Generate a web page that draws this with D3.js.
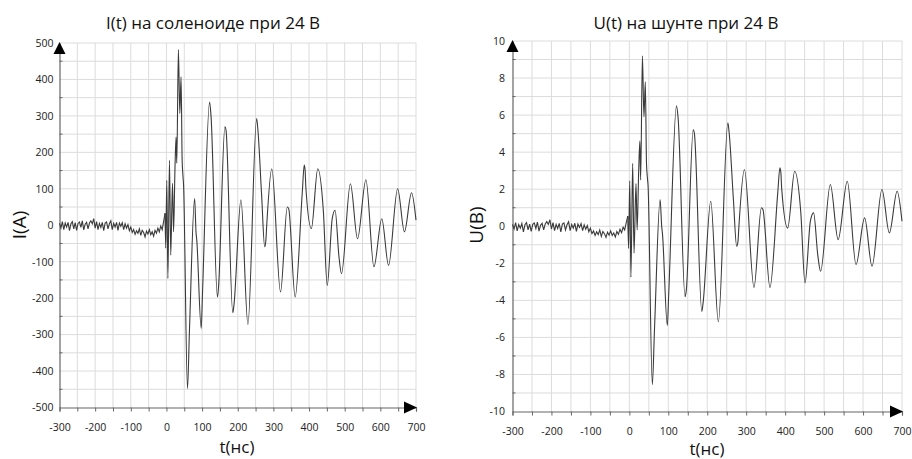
<!DOCTYPE html>
<html>
<head>
<meta charset="utf-8">
<script src="https://cdn.jsdelivr.net/npm/d3@7/dist/d3.min.js"></script>
<style>
body { margin: 0; background: #fff; }
svg { display: block; font-family: "Open Sans", sans-serif; }
</style>
</head>
<body>
<div id="chart"></div>
<script>
// time points, ns (shared by both oscillograms)
var timeNs = [
    -300, -296, -292, -288, -284, -280, -276, -272, -268, -264,
    -260, -256, -252, -248, -244, -240, -236, -232, -228, -224,
    -220, -216, -212, -208, -204, -200, -196, -192, -188, -184,
    -180, -176, -172, -168, -164, -160, -156, -152, -148, -144,
    -140, -136, -132, -128, -124, -120, -116, -112, -108, -104,
    -100, -96, -92, -88, -84, -80, -76, -72, -68, -64,
    -60, -56, -52, -48, -44, -40, -36, -32, -28, -24,
    -20, -16, -12, -8,
    -4, -2, 1, 4, 8.5, 12, 17, 20, 24, 27,
    29, 33.5, 37.5, 41, 44, 46, 48, 59, 64.5, 79,
    83, 85, 97.5, 101, 121, 125, 143, 146, 164, 167,
    186, 189, 209, 228.5, 253, 256, 267, 275.5, 279, 281,
    295.5, 320, 339, 343, 361, 381, 386.5, 389, 391, 406.5,
    424.5, 440, 451, 465, 473, 484, 491, 516, 536, 559.5,
    582, 604, 623, 648.5, 667.5, 687.5, 700
];

// current through the solenoid, A
var currentA = [
    5, -8, 10, -12, 6, -5, 8, -15, 4, 10,
    -10, 7, -14, 5, 9, -6, 12, -13, 3, 8,
    -10, 6, 12, 4, 18, -8, 10, -12, 5, -6,
    8, -15, 6, 9, -10, 4, 12, -12, 5, -5,
    8, -14, 6, -3, 7, -12, 4, -8, 2, -15,
    -5, -20, -12, -25, -15, -22, -10, -28, -14, -20,
    -32, -16, -24, -12, -26, -18, -30, -14, -22, -8,
    -18, -2, -12, 10,
    33, -63, 123, -146, 178, -82, 115, -18, 160, 242,
    170, 482, 307, 407, 180, 140, 110, -448, -290, 73,
    -20, -40, -283, -190, 338, 300, -197, -170, 270, 262,
    -240, -222, 70, -272, 293, 268, 82, -59, -40, -5,
    155, -183, 50, 45, -197, 90, 165, 150, 105, -9,
    155, 41, -165, 18, 41, -87, -133, 114, -37, 125,
    -114, 18, -110, 100, -18, 89, 14
];

// voltage on the shunt, V
var voltageV = [
    0.1, -0.15, 0.2, -0.25, 0.1, -0.1, 0.15, -0.3, 0.08, 0.2,
    -0.2, 0.12, -0.28, 0.1, 0.18, -0.12, 0.22, -0.26, 0.05, 0.16,
    -0.2, 0.12, 0.25, 0.1, 0.35, -0.15, 0.2, -0.24, 0.1, -0.12,
    0.16, -0.3, 0.12, 0.18, -0.2, 0.08, 0.24, -0.24, 0.1, -0.1,
    0.16, -0.28, 0.12, -0.06, 0.14, -0.24, 0.08, -0.16, 0.04, -0.3,
    -0.1, -0.4, -0.25, -0.5, -0.3, -0.45, -0.2, -0.55, -0.28, -0.4,
    -0.6, -0.32, -0.48, -0.25, -0.5, -0.36, -0.58, -0.28, -0.44, -0.16,
    -0.35, -0.05, -0.2, 0.2,
    0.55, -1.2, 2.45, -2.75, 3.4, -1.45, 2.3, -0.2, 3.0, 4.6,
    2.5, 9.2, 5.9, 7.8, 3.4, 2.7, 2.2, -8.55, -5.6, 1.44,
    0, -0.4, -5.36, -3.7, 6.5, 5.9, -3.8, -3.5, 5.2, 5.0,
    -4.6, -4.2, 1.35, -5.16, 5.58, 5.1, 1.5, -1.08, -0.8, -0.1,
    3.06, -3.3, 1.0, 0.9, -3.3, 1.8, 3.15, 2.9, 2.07, -0.1,
    2.97, 0.8, -3.06, 0.3, 0.72, -1.6, -2.43, 2.25, -0.72, 2.43,
    -2.07, 0.45, -2.16, 1.98, -0.36, 1.89, 0.27
];

var timeTicks = [-300, -200, -100, 0, 100, 200, 300, 400, 500, 600, 700];
var currentTicks = [-500, -400, -300, -200, -100, 0, 100, 200, 300, 400, 500];
var voltageTicks = [-10, -8, -6, -4, -2, 0, 2, 4, 6, 8, 10];

// the trace is drawn straight up to here (noise), smoothed after
var noiseEnd = -4;

var svg = d3.select("#chart").append("svg")
    .attr("width", 912)
    .attr("height", 459);

function drawPanel(cfg) {
    var x = d3.scaleLinear().domain([-300, 700]).range([cfg.left, cfg.right]),
        y = d3.scaleLinear().domain(cfg.yDomain).range([cfg.bottom, cfg.top]),
        g = svg.append("g"),
        yStep = (cfg.yDomain[1] - cfg.yDomain[0]) / 20;

    // grid, every half division
    g.append("g").selectAll("line")
        .data(d3.range(-250, 701, 50))
        .enter().append("line")
        .attr("x1", function (d) { return x(d); })
        .attr("x2", function (d) { return x(d); })
        .attr("y1", cfg.top)
        .attr("y2", cfg.bottom)
        .style("stroke", "#dcdcdc")
        .style("stroke-width", 1);

    g.append("g").selectAll("line")
        .data(d3.range(1, 21).map(function (i) { return cfg.yDomain[0] + i * yStep; }))
        .enter().append("line")
        .attr("x1", cfg.left)
        .attr("x2", cfg.right)
        .attr("y1", function (d) { return y(d); })
        .attr("y2", function (d) { return y(d); })
        .style("stroke", "#dcdcdc")
        .style("stroke-width", 1);

    // axes
    var xAxis = d3.axisBottom(x)
        .tickValues(d3.range(-300, 701, 50))
        .tickSize(4)
        .tickFormat(function (d) { return timeTicks.indexOf(d) >= 0 ? String(d) : ""; });
    var xg = g.append("g")
        .attr("transform", "translate(0," + cfg.bottom + ")")
        .call(xAxis);
    xg.selectAll("text").attr("dy", null).attr("y", cfg.xTickY - cfg.bottom);

    var yAxis = d3.axisLeft(y)
        .tickValues(cfg.yTicks)
        .tickSize(0)
        .tickPadding(cfg.tickPad)
        .tickFormat(function (d) { return String(d); });
    var yg = g.append("g")
        .attr("transform", "translate(" + cfg.left + ",0)")
        .call(yAxis);

    [xg, yg].forEach(function (ax) {
        ax.select(".domain").style("stroke", "#666").style("stroke-width", 1.2);
        ax.selectAll(".tick line").style("stroke", "#666");
        ax.selectAll("text")
            .style("font-family", "'Open Sans', sans-serif")
            .style("font-size", "10.5px")
            .style("fill", "#222");
    });

    // minor ticks on y axis (odd half divisions)
    g.append("g").selectAll("line")
        .data(d3.range(0, 10).map(function (i) { return cfg.yDomain[0] + (2 * i + 1) * yStep; }))
        .enter().append("line")
        .attr("x1", cfg.left)
        .attr("x2", cfg.left + 3)
        .attr("y1", function (d) { return y(d); })
        .attr("y2", function (d) { return y(d); })
        .style("stroke", "#666");

    // arrow heads
    g.append("path")
        .attr("d", "M" + cfg.left + "," + (cfg.top - 1) +
            "L" + (cfg.left - 6) + "," + (cfg.top + 11) +
            "L" + (cfg.left + 6) + "," + (cfg.top + 11) + "Z")
        .style("fill", "#000");
    g.append("path")
        .attr("d", "M" + (cfg.right + 1) + "," + cfg.bottom +
            "L" + (cfg.right - 12) + "," + (cfg.bottom - 6) +
            "L" + (cfg.right - 12) + "," + (cfg.bottom + 6) + "Z")
        .style("fill", "#000");

    // signal: noisy baseline straight, ringing smoothed
    var pts = cfg.values.map(function (v, i) { return [timeNs[i], v]; }),
        noisePart = pts.filter(function (p) { return p[0] <= noiseEnd; }),
        ringPart = pts.filter(function (p) { return p[0] >= noiseEnd; });

    var straight = d3.line()
        .x(function (p) { return x(p[0]); })
        .y(function (p) { return y(p[1]); });
    var smooth = d3.line()
        .x(function (p) { return x(p[0]); })
        .y(function (p) { return y(p[1]); })
        .curve(d3.curveMonotoneX);

    [[noisePart, straight], [ringPart, smooth]].forEach(function (part) {
        g.append("path")
            .datum(part[0])
            .attr("d", part[1])
            .style("fill", "none")
            .style("stroke", "#3a3a3a")
            .style("stroke-width", 1.1);
    });

    // labels
    g.append("text")
        .attr("x", cfg.titleX)
        .attr("y", cfg.titleY)
        .attr("text-anchor", "middle")
        .style("font-size", "17px")
        .style("fill", "#111")
        .text(cfg.title);
    g.append("text")
        .attr("x", cfg.xLabelX)
        .attr("y", cfg.xLabelY)
        .attr("text-anchor", "middle")
        .style("font-size", "17px")
        .style("fill", "#111")
        .text("t(нс)");
    g.append("text")
        .attr("transform", "translate(" + cfg.yLabelX + "," + cfg.yLabelY + ") rotate(-90)")
        .attr("text-anchor", "middle")
        .attr("dy", "0.35em")
        .style("font-size", "19px")
        .style("fill", "#111")
        .text(cfg.yLabel);
}

drawPanel({
    left: 59.5, right: 416, top: 43, bottom: 407.5,
    yDomain: [-500, 500], yTicks: currentTicks, values: currentA,
    tickPad: 6, xTickY: 431,
    title: "I(t) на соленоиде при 24 В", titleX: 213, titleY: 29,
    xLabelX: 237, xLabelY: 453,
    yLabel: "I(A)", yLabelX: 19, yLabelY: 225
});

drawPanel({
    left: 512.5, right: 902, top: 41, bottom: 411.5,
    yDomain: [-10, 10], yTicks: voltageTicks, values: voltageV,
    tickPad: 7.5, xTickY: 434.5,
    title: "U(t) на шунте при 24 В", titleX: 686, titleY: 28.5,
    xLabelX: 707, xLabelY: 455,
    yLabel: "U(B)", yLabelX: 476, yLabelY: 225
});
</script>
</body>
</html>
